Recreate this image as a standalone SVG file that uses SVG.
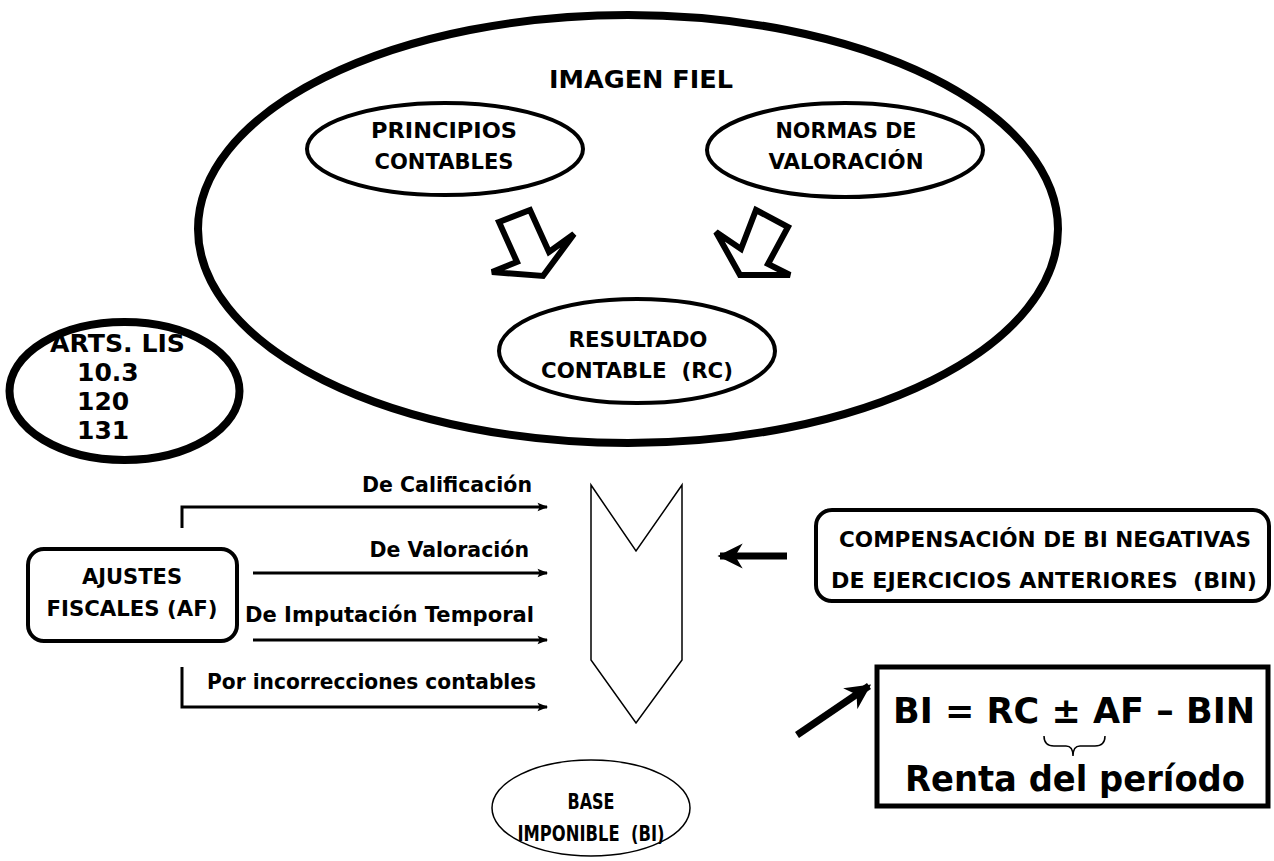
<svg xmlns="http://www.w3.org/2000/svg" width="1274" height="861" viewBox="0 0 1274 861">
<style>
text{font-family:"DejaVu Sans","Liberation Sans",sans-serif;font-weight:bold;fill:#000}
.c{text-anchor:middle}
.e{text-anchor:end}
.thick{fill:#fff;stroke:#000;stroke-width:8}
.mid{fill:#fff;stroke:#000;stroke-width:4}
.thin{fill:#fff;stroke:#000;stroke-width:1.5}
.conn{fill:none;stroke:#000;stroke-width:3}
.hollow{fill:#fff;stroke:#000;stroke-width:6;stroke-linejoin:miter}
</style>
<defs>
<marker id="ah" viewBox="0 0 10 10" refX="9" refY="5" markerWidth="4" markerHeight="3.5" orient="auto" markerUnits="strokeWidth">
<path d="M0,1 L10,5 L0,9 L2,5 Z" fill="#000"/>
</marker>
<marker id="ahb" viewBox="0 0 10 10" refX="9" refY="5" markerWidth="3.6" markerHeight="3.6" orient="auto" markerUnits="strokeWidth">
<path d="M0,0 L10,5 L0,10 L3,5 Z" fill="#000"/>
</marker>
</defs>
<rect width="1274" height="861" fill="#fff"/>

<g id="imagen-fiel">
<ellipse class="thick" cx="628" cy="229" rx="430" ry="214"/>
<text class="c" x="641" y="88" font-size="24" textLength="184" lengthAdjust="spacingAndGlyphs">IMAGEN FIEL</text>
</g>

<g id="principios">
<ellipse class="mid" cx="445" cy="149" rx="138" ry="46"/>
<text class="c" x="444" y="138" font-size="22" textLength="146" lengthAdjust="spacingAndGlyphs">PRINCIPIOS</text>
<text class="c" x="444" y="169" font-size="22" textLength="139" lengthAdjust="spacingAndGlyphs">CONTABLES</text>
</g>

<g id="normas">
<ellipse class="mid" cx="845" cy="150" rx="138" ry="47"/>
<text class="c" x="846" y="138" font-size="22" textLength="141" lengthAdjust="spacingAndGlyphs">NORMAS DE</text>
<text class="c" x="846" y="169" font-size="22" textLength="155" lengthAdjust="spacingAndGlyphs">VALORACIÓN</text>
</g>

<g id="resultado">
<ellipse class="mid" cx="637" cy="351" rx="138" ry="52"/>
<text class="c" x="638" y="347" font-size="22" textLength="139" lengthAdjust="spacingAndGlyphs">RESULTADO</text>
<text class="c" x="637" y="378" font-size="22" textLength="192" lengthAdjust="spacingAndGlyphs" xml:space="preserve">CONTABLE  (RC)</text>
</g>

<g id="arts-lis">
<ellipse class="thick" cx="124.5" cy="391" rx="115" ry="69"/>
<text x="50" y="352" font-size="25" textLength="135" lengthAdjust="spacingAndGlyphs">ARTS. LIS</text>
<text x="77" y="381" font-size="25">10.3</text>
<text x="77" y="410" font-size="25">120</text>
<text x="77" y="439" font-size="25">131</text>
</g>

<g id="ajustes">
<rect class="mid" x="28" y="549" width="209" height="92" rx="16"/>
<text class="c" x="132" y="584" font-size="21">AJUSTES</text>
<text class="c" x="132" y="616" font-size="21" textLength="171" lengthAdjust="spacingAndGlyphs">FISCALES (AF)</text>
</g>

<g id="chevron">
<polygon class="thin" points="591,485 636,551 682,485 682,660 636,723 591,660"/>
</g>

<g id="compensacion">
<rect class="mid" x="816" y="510" width="453" height="91" rx="16"/>
<text class="c" x="1045" y="547" font-size="21.5" textLength="412" lengthAdjust="spacingAndGlyphs">COMPENSACIÓN DE BI NEGATIVAS</text>
<text class="c" x="1044" y="588" font-size="21.5" textLength="426" lengthAdjust="spacingAndGlyphs" xml:space="preserve">DE EJERCICIOS ANTERIORES  (BIN)</text>
</g>

<g id="base-imponible">
<ellipse class="thin" cx="591" cy="808" rx="99" ry="48" stroke-width="2"/>
<text class="c" x="591" y="809" font-size="22" textLength="47" lengthAdjust="spacingAndGlyphs">BASE</text>
<text class="c" x="591" y="841" font-size="22" textLength="147" lengthAdjust="spacingAndGlyphs" xml:space="preserve">IMPONIBLE  (BI)</text>
</g>

<g id="formula">
<rect x="877" y="667" width="391" height="139" fill="#fff" stroke="#000" stroke-width="5"/>
<text class="c" x="1074" y="723" font-size="35" textLength="362" lengthAdjust="spacingAndGlyphs">BI = RC ± AF – BIN</text>
<path d="M1044,736 Q1044,746 1054,746 L1066,746 Q1073,746 1073,756 Q1073,746 1080,746 L1095,746 Q1105,746 1105,736" fill="none" stroke="#000" stroke-width="1.5"/>
<text class="c" x="1075" y="791" font-size="35" textLength="340" lengthAdjust="spacingAndGlyphs">Renta del período</text>
</g>

<g id="connectors">
<polygon class="hollow" points="499,222 530,210 549,252 574,234 543,276 492,272 517,262"/>
<polygon class="hollow" points="756,210 788,227 768,264 790,275 740,275 716,232 741,249"/>
<polyline class="conn" points="182,528 182,507 547,507" marker-end="url(#ah)"/>
<line class="conn" x1="253" y1="573" x2="547" y2="573" marker-end="url(#ah)"/>
<line class="conn" x1="253" y1="640" x2="547" y2="640" marker-end="url(#ah)"/>
<polyline class="conn" points="182,667 182,707 547,707" marker-end="url(#ah)"/>
<text class="e" x="532" y="492" font-size="20.5">De Calificación</text>
<text class="e" x="529" y="557" font-size="20.5">De Valoración</text>
<text class="e" x="534" y="622" font-size="20.5" textLength="289" lengthAdjust="spacingAndGlyphs">De Imputación Temporal</text>
<text class="e" x="536" y="689" font-size="20.5" textLength="329" lengthAdjust="spacingAndGlyphs">Por incorrecciones contables</text>
<line x1="787" y1="556" x2="720" y2="556" stroke="#000" stroke-width="7" marker-end="url(#ahb)"/>
<line x1="797" y1="735" x2="869" y2="686" stroke="#000" stroke-width="7" marker-end="url(#ahb)"/>
</g>
</svg>
